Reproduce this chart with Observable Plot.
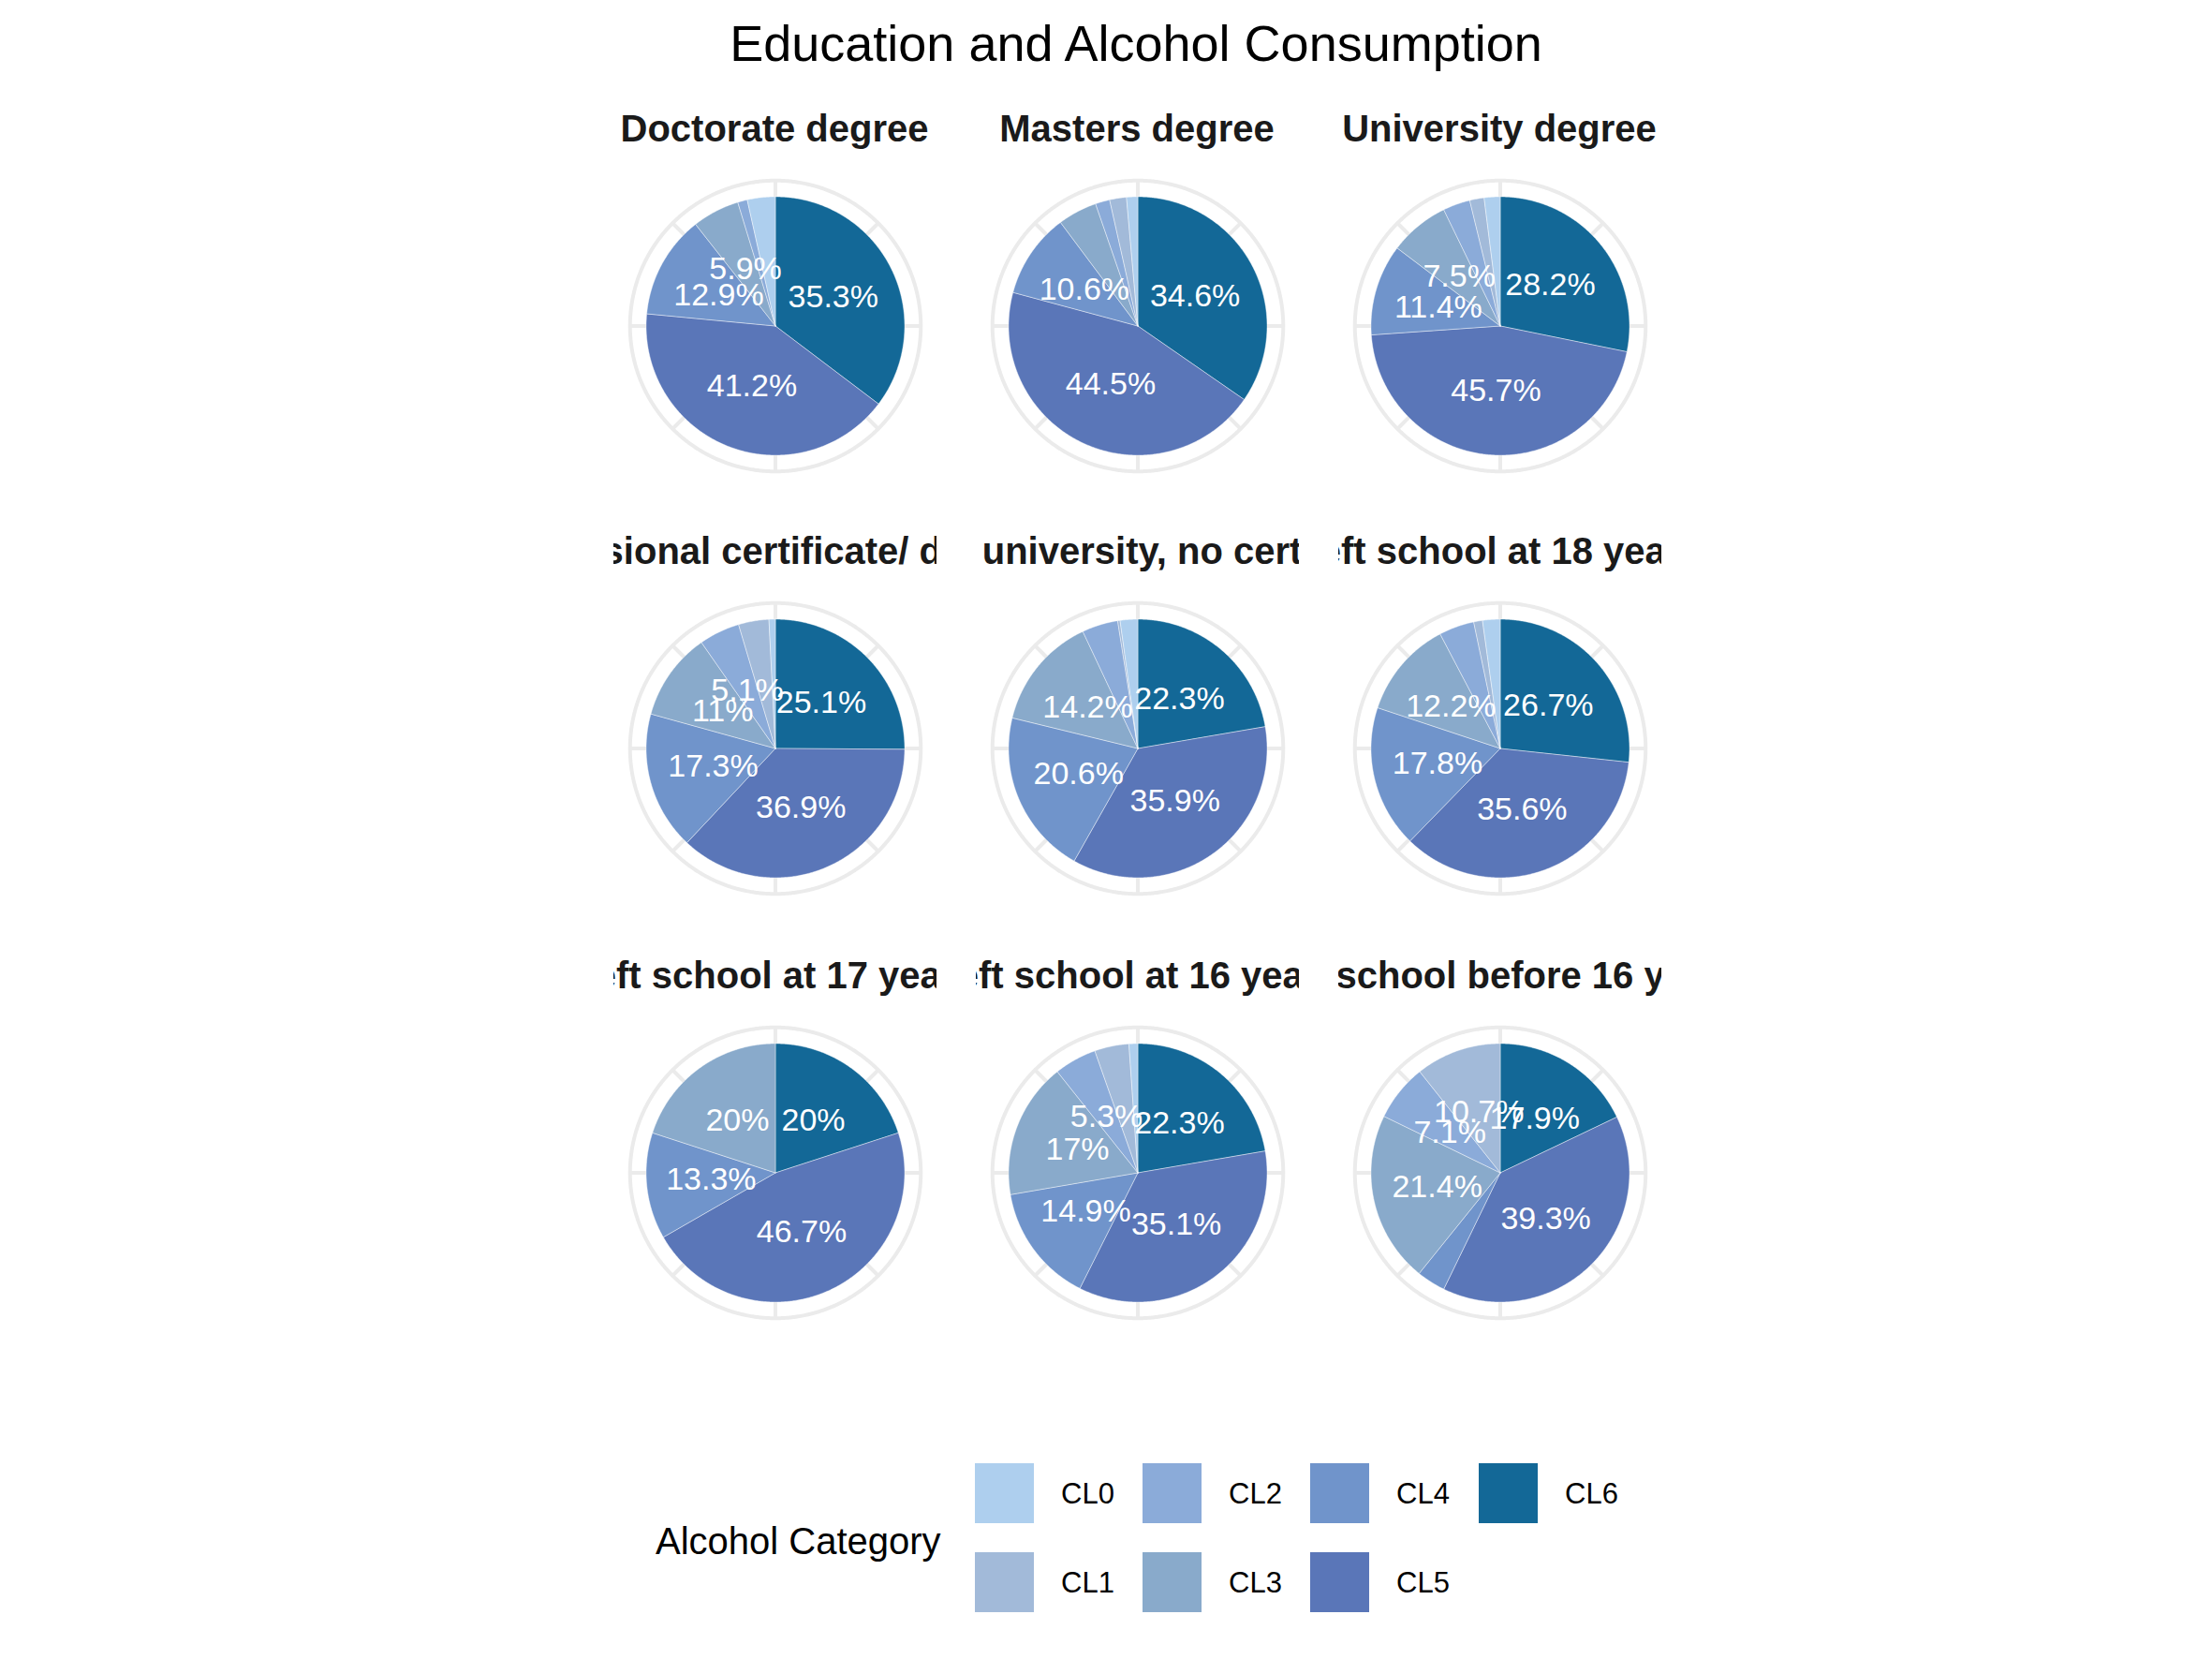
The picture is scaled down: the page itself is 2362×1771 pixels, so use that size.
<!DOCTYPE html>
<html>
<head>
<meta charset="utf-8">
<script src="https://cdn.jsdelivr.net/npm/d3@7"></script>
<script src="https://cdn.jsdelivr.net/npm/@observablehq/plot@0.6"></script>
<style>
  html, body { margin: 0; padding: 0; background: #fff; }
  #root { position: relative; width: 2362px; height: 1771px; overflow: hidden;
          font-family: "Liberation Sans", Arial, Helvetica, sans-serif; background: #fff; }
  .main-title { position: absolute; top: 19px; left: 1213px; transform: translateX(-50%);
                font-size: 54px; line-height: 1; color: #000; white-space: nowrap; }
  .facet { position: absolute; width: 345px; }
  .facet-title { position: absolute; left: 0; width: 345px; height: 60px; overflow: hidden;
                 display: flex; justify-content: center; font-weight: bold; font-size: 40px;
                 line-height: 60px; color: #1a1a1a; white-space: nowrap; }
  .facet-title span { flex: none; }
  .legend-title { position: absolute; left: 700px; top: 1625px; font-size: 40px; line-height: 1; color: #000; }
  .sw { position: absolute; width: 63px; height: 64px; }
  .sw-label { position: absolute; font-size: 31px; line-height: 1; color: #000; }
</style>
</head>
<body>
<div id="root"></div>
<script>
// ---- data (percent of each education level in each alcohol category, CL0..CL6) ----
const categories = ["CL0", "CL1", "CL2", "CL3", "CL4", "CL5", "CL6"];
const categoryColors = ["#AECFEE", "#A2BAD9", "#8BABD9", "#89AACB", "#7094CB", "#5A76B8", "#136897"];
const educationLevels = [
  "Doctorate degree",
  "Masters degree",
  "University degree",
  "Professional certificate/ diploma",
  "Some college or university, no certificate or degree",
  "Left school at 18 years",
  "Left school at 17 years",
  "Left school at 16 years",
  "Left school before 16 years"
];
const doctorate    = [3.5, 0,   1.2, 5.9,  12.9, 41.2, 35.3];
const masters      = [1.4, 2.1, 1.8, 4.9,  10.6, 44.5, 34.6];
const university   = [2.0, 1.8, 3.4, 7.5,  11.4, 45.7, 28.2];
const professional = [0.8, 3.8, 5.1, 11.0, 17.3, 36.9, 25.1];
const someCollege  = [2.2, 0.3, 4.5, 14.2, 20.6, 35.9, 22.3];
const leftAt18     = [2.2, 1.1, 4.4, 12.2, 17.8, 35.6, 26.7];
const leftAt17     = [0,   0,   0,   20.0, 13.3, 46.7, 20.0];
const leftAt16     = [1.1, 4.3, 5.3, 17.0, 14.9, 35.1, 22.3];
const leftBefore16 = [0,   10.7, 7.1, 21.4, 3.6, 39.3, 17.9];
const seriesByLevel = [doctorate, masters, university, professional, someCollege, leftAt18, leftAt17, leftAt16, leftBefore16];
const thetaBreaks = [0, 12.5, 25, 37.5, 50, 62.5, 75, 87.5]; // percent grid spokes
const labelThreshold = 5;

// ---- geometry in data space (polar -> cartesian) ----
const R = 0.4, RING = 0.45;
const stackOrder = [6, 5, 4, 3, 2, 1, 0];

function pieData(values) {
  const total = d3.sum(values);
  const pts = [], labels = [];
  let acc = 0;
  for (const i of stackOrder) {
    const v = values[i];
    if (!(v > 0)) continue;
    const cat = categories[i];
    const a0 = acc / total, a1 = (acc + v) / total;
    acc += v;
    const n = Math.max(2, Math.ceil((a1 - a0) * 720));
    pts.push({cat, x: 0, y: 0});
    for (let k = 0; k <= n; k++) {
      const t = 2 * Math.PI * (a0 + (a1 - a0) * k / n);
      pts.push({cat, x: R * Math.sin(t), y: R * Math.cos(t)});
    }
    pts.push({cat, x: 0, y: 0});
    if (v / total * 100 >= labelThreshold) {
      const tm = 2 * Math.PI * (a0 + a1) / 2;
      labels.push({x: R / 2 * Math.sin(tm), y: R / 2 * Math.cos(tm), label: `${v}%`});
    }
  }
  return {pts, labels};
}

const ringPts = d3.range(0, 721).map(k => {
  const t = 2 * Math.PI * k / 720;
  return {x: RING * Math.sin(t), y: RING * Math.cos(t)};
});
const spokes = thetaBreaks.map(b => {
  const t = 2 * Math.PI * b / 100;
  return {x1: 0, y1: 0, x2: RING * Math.sin(t), y2: RING * Math.cos(t)};
});

// ---- layout ----
const root = document.getElementById("root");
const colCenters = [827, 1214, 1601];
const rowCenters = [347, 798, 1251];
const PANEL = 345;

const t = document.createElement("div");
t.className = "main-title";
t.textContent = "Education and Alcohol Consumption";
root.appendChild(t);

educationLevels.forEach((name, idx) => {
  const cx = colCenters[idx % 3], cy = rowCenters[Math.floor(idx / 3)];
  const {pts, labels} = pieData(seriesByLevel[idx]);

  const title = document.createElement("div");
  title.className = "facet-title";
  title.style.left = (cx - PANEL / 2) + "px";
  title.style.top = (cy - 240) + "px";
  const span = document.createElement("span");
  span.textContent = name;
  title.appendChild(span);
  root.appendChild(title);

  const chart = Plot.plot({
    width: PANEL, height: PANEL, margin: 0,
    style: {background: "transparent", overflow: "visible"},
    x: {domain: [-0.5, 0.5], axis: null},
    y: {domain: [-0.5, 0.5], axis: null},
    color: {domain: categories, range: categoryColors},
    marks: [
      Plot.link(spokes, {x1: "x1", y1: "y1", x2: "x2", y2: "y2", stroke: "#EBEBEB", strokeWidth: 4}),
      Plot.line(ringPts, {x: "x", y: "y", stroke: "#EBEBEB", strokeWidth: 4}),
      Plot.line(pts, {x: "x", y: "y", z: "cat", fill: "cat", stroke: "white", strokeWidth: 0.6, strokeOpacity: 0.7, curve: "linear"}),
      Plot.text(labels, {x: "x", y: "y", text: "label", fill: "white", fontSize: 34,
                         fontFamily: "Liberation Sans, Arial, sans-serif"})
    ]
  });
  const holder = document.createElement("div");
  holder.className = "facet";
  holder.style.left = (cx - PANEL / 2) + "px";
  holder.style.top = (cy - PANEL / 2) + "px";
  holder.appendChild(chart);
  root.appendChild(holder);
});

// ---- legend ----
const lt = document.createElement("div");
lt.className = "legend-title";
lt.textContent = "Alcohol Category";
root.appendChild(lt);
const legendCols = [1041, 1220, 1399, 1579];
const legendRows = [1562, 1657];
categories.forEach((c, i) => {
  const col = Math.floor(i / 2), row = i % 2;
  const sw = document.createElement("div");
  sw.className = "sw";
  sw.style.left = legendCols[col] + "px";
  sw.style.top = legendRows[row] + "px";
  sw.style.background = categoryColors[i];
  root.appendChild(sw);
  const lb = document.createElement("div");
  lb.className = "sw-label";
  lb.textContent = c;
  lb.style.left = (legendCols[col] + 92) + "px";
  lb.style.top = (legendRows[row] + 17) + "px";
  root.appendChild(lb);
});
</script>
</body>
</html>
